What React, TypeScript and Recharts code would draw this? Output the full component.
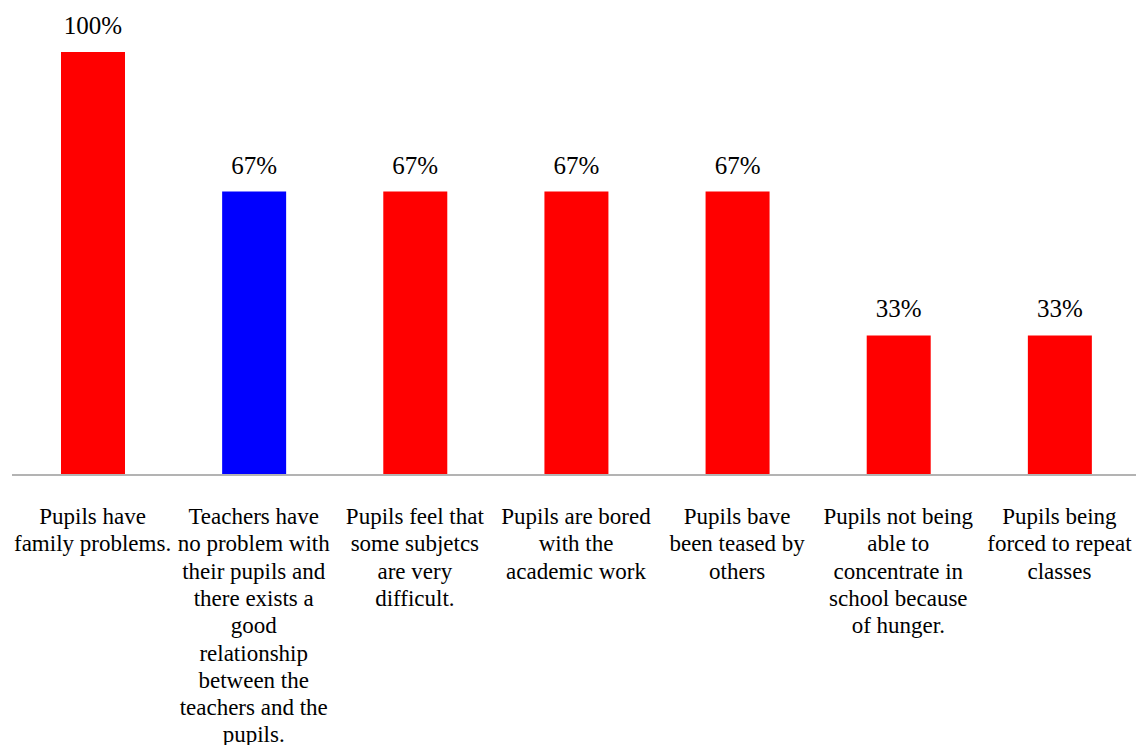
import { BarChart, Bar, XAxis, YAxis, Cell, LabelList } from "recharts";

document.body.style.margin = "0";

const categories = [
  "Pupils have\nfamily problems.",
  "Teachers have\nno problem with\ntheir pupils and\nthere exists a\ngood\nrelationship\nbetween the\nteachers and the\npupils.",
  "Pupils feel that\nsome subjetcs\nare very\ndifficult.",
  "Pupils are bored\nwith the\nacademic work",
  "Pupils bave\nbeen teased by\nothers",
  "Pupils not being\nable to\nconcentrate in\nschool because\nof hunger.",
  "Pupils being\nforced to repeat\nclasses",
];
const values = [100, 67, 67, 67, 67, 33, 33];
const barColors = ["#ff0000", "#0000ff", "#ff0000", "#ff0000", "#ff0000", "#ff0000", "#ff0000"];

const data = categories.map((name, i) => ({ name, value: values[i] }));

const FONT = "Times New Roman, Times, Liberation Serif, DejaVu Serif, Noto Serif, serif";

function CategoryTick(props: any) {
  const { x, y, payload } = props;
  const lines = String(payload.value).split("\n");
  return (
    <text textAnchor="middle" fontFamily={FONT} fontSize={23} fill="#000">
      {lines.map((line, i) => (
        <tspan key={i} x={x} y={y + 47 + i * 27.3} fontFamily={FONT}>
          {line}
        </tspan>
      ))}
    </text>
  );
}

export default function App() {
  return (
    <div style={{ width: 1136, height: 745, background: "#fff" }}>
      <BarChart
        width={1136}
        height={745}
        data={data}
        margin={{ top: 52, right: -4, bottom: 0, left: 12 }}
        barCategoryGap={0}
        style={{ fontFamily: FONT }}
      >
        <XAxis
          dataKey="name"
          height={270}
          interval={0}
          tickLine={false}
          tickSize={0}
          axisLine={{ stroke: "#b3b3b3", strokeWidth: 2 }}
          tick={<CategoryTick />}
        />
        <YAxis hide domain={[0, 100]} />
        <Bar dataKey="value" barSize={64} isAnimationActive={false}>
          {data.map((_, i) => (
            <Cell key={i} fill={barColors[i]} />
          ))}
          <LabelList
            dataKey="value"
            position="top"
            offset={18}
            formatter={(v: any) => `${v}%`}
            fontFamily={FONT}
            fontSize={25}
            fill="#000"
          />
        </Bar>
      </BarChart>
    </div>
  );
}
